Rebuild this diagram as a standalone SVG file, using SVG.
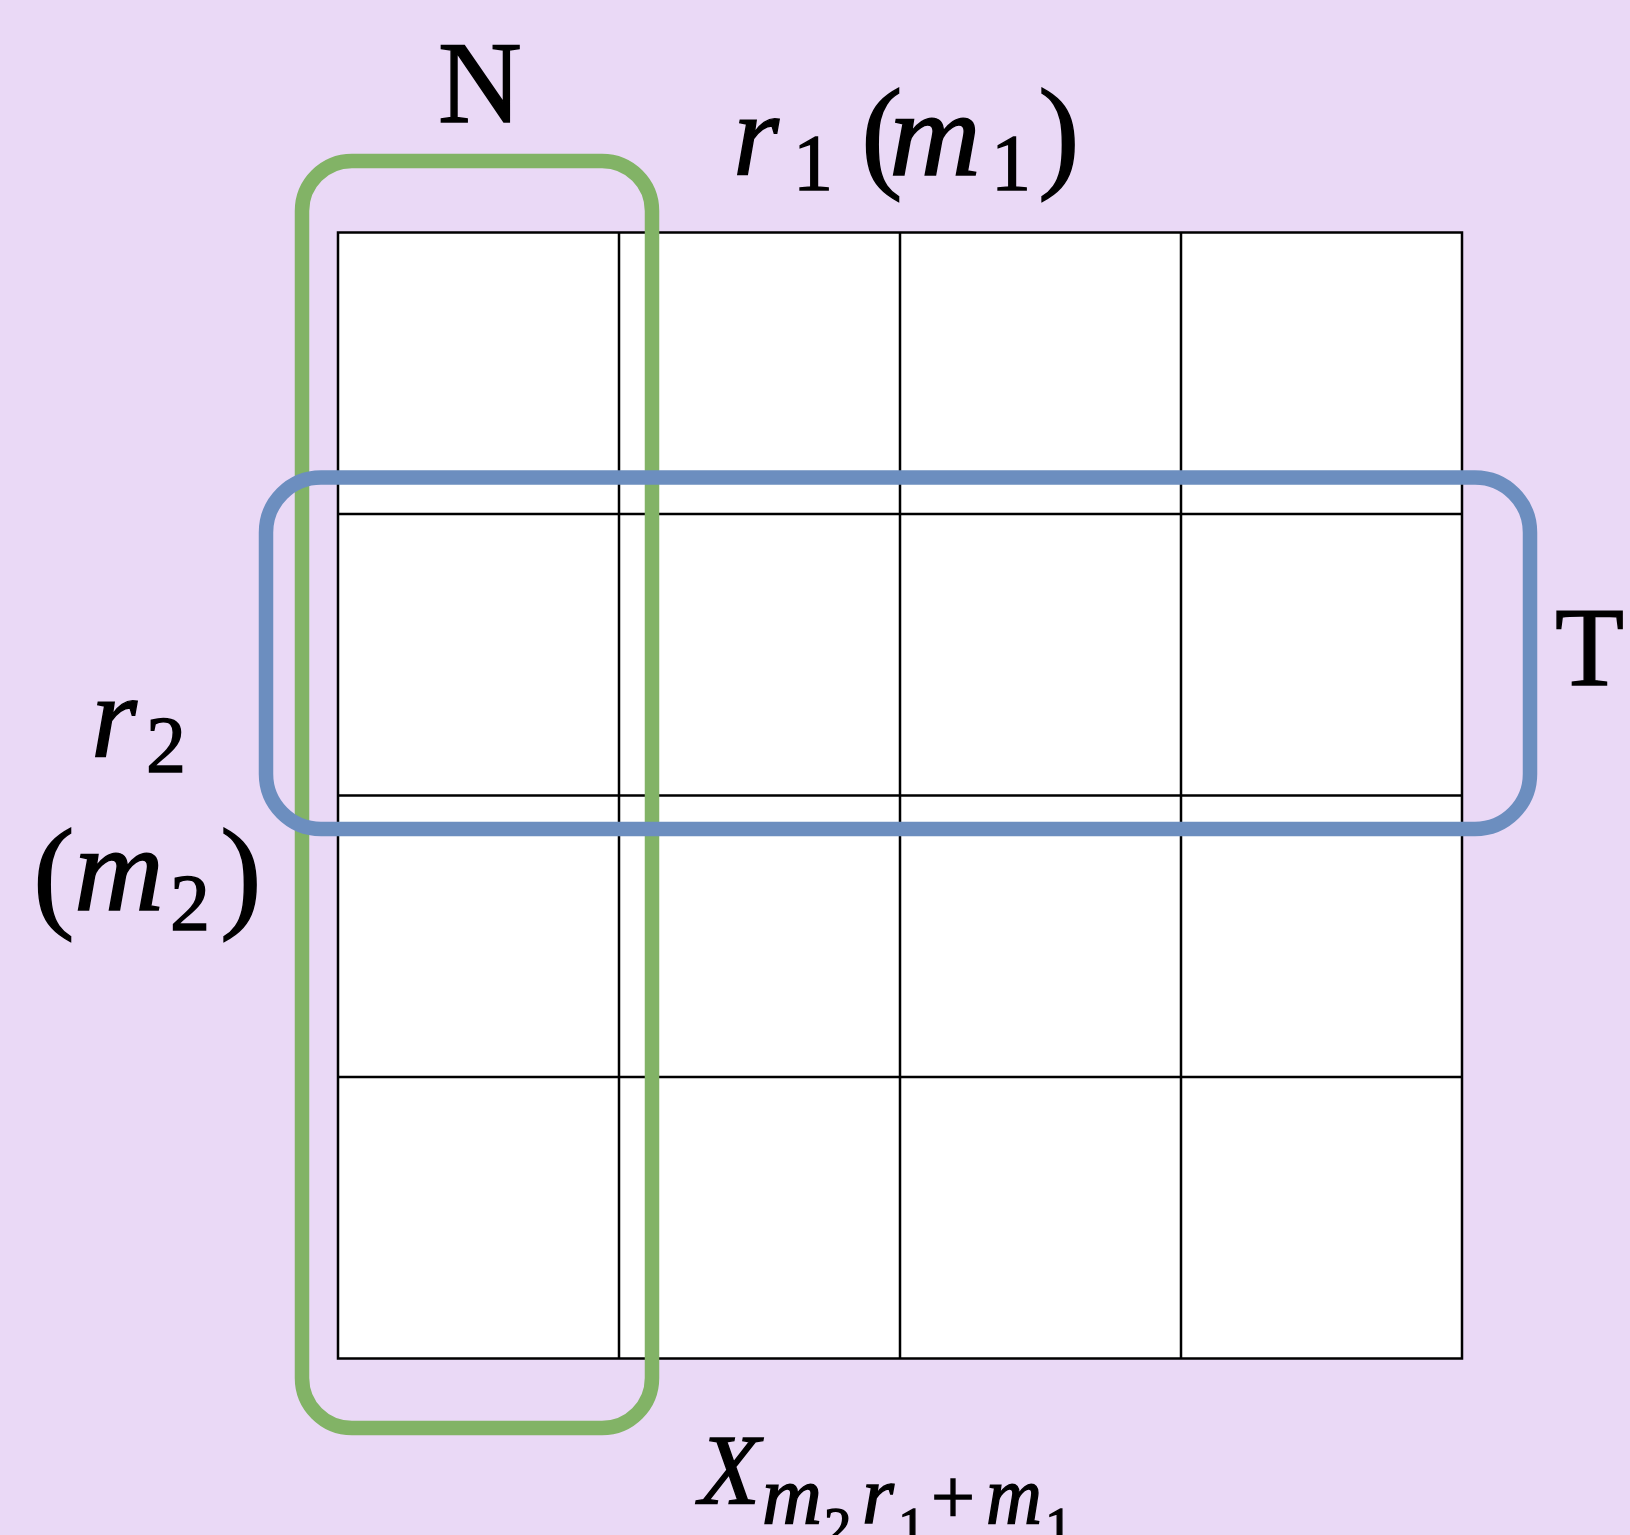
<svg xmlns="http://www.w3.org/2000/svg" width="1630" height="1535" viewBox="0 0 1630 1535">
<style>
.bg{fill:#EAD9F6}
.cell{fill:#FFFFFF;stroke:#000000;stroke-width:2.5}
.gl{stroke:#000000;stroke-width:2.5}
.grp{fill:none;stroke-width:14.5}
.green{stroke:#82B366}
.blue{stroke:#6C8EBF}
text{font-family:"Liberation Serif","DejaVu Serif",serif;fill:#000000;stroke:#000000;stroke-width:1.4}
.it{font-style:italic}
</style>
<rect class="bg" x="0" y="0" width="1630" height="1535"/>
<g id="grid">
<rect class="cell" x="338" y="232.5" width="1124" height="1126"/>
<line class="gl" x1="619" y1="232.5" x2="619" y2="1358.5"/>
<line class="gl" x1="900" y1="232.5" x2="900" y2="1358.5"/>
<line class="gl" x1="1181" y1="232.5" x2="1181" y2="1358.5"/>
<line class="gl" x1="338" y1="514" x2="1462" y2="514"/>
<line class="gl" x1="338" y1="795.5" x2="1462" y2="795.5"/>
<line class="gl" x1="338" y1="1077" x2="1462" y2="1077"/>
</g>
<g id="column-N">
<rect class="grp green" x="302" y="161" width="350" height="1267" rx="50" ry="50"/>
</g>
<g id="row-T">
<rect class="grp blue" x="266" y="477.5" width="1264" height="351.5" rx="55" ry="55"/>
</g>
<g id="label-N"><text x="438" y="122" font-size="116">N</text></g>
<g id="label-T"><text x="1555" y="685" font-size="113">T</text></g>
<g id="label-r1">
<text class="it" x="733" y="175" font-size="118">r</text>
<text x="793" y="190" font-size="80">1</text>
<text x="861" y="175" font-size="125">(</text>
<text class="it" x="889" y="175" font-size="120" textLength="92" lengthAdjust="spacingAndGlyphs">m</text>
<text x="991" y="190" font-size="80">1</text>
<text x="1038" y="175" font-size="125">)</text>
</g>
<g id="label-r2">
<text class="it" x="91" y="757" font-size="118">r</text>
<text x="146" y="772" font-size="80">2</text>
<text x="33" y="915" font-size="125">(</text>
<text class="it" x="74" y="910" font-size="120" textLength="90" lengthAdjust="spacingAndGlyphs">m</text>
<text x="170" y="930" font-size="80">2</text>
<text x="220" y="915" font-size="125">)</text>
</g>
<g id="label-X">
<text class="it" x="699" y="1503" font-size="100">X</text>
<text class="it" x="762" y="1523" font-size="82" textLength="60" lengthAdjust="spacingAndGlyphs">m</text>
<text x="824" y="1545" font-size="55">2</text>
<text class="it" x="862" y="1523" font-size="82">r</text>
<text x="898" y="1545" font-size="55">1</text>
<text x="931" y="1523" font-size="78">+</text>
<text class="it" x="986" y="1523" font-size="82" textLength="56" lengthAdjust="spacingAndGlyphs">m</text>
<text x="1045" y="1545" font-size="55">1</text>
</g>
</svg>
